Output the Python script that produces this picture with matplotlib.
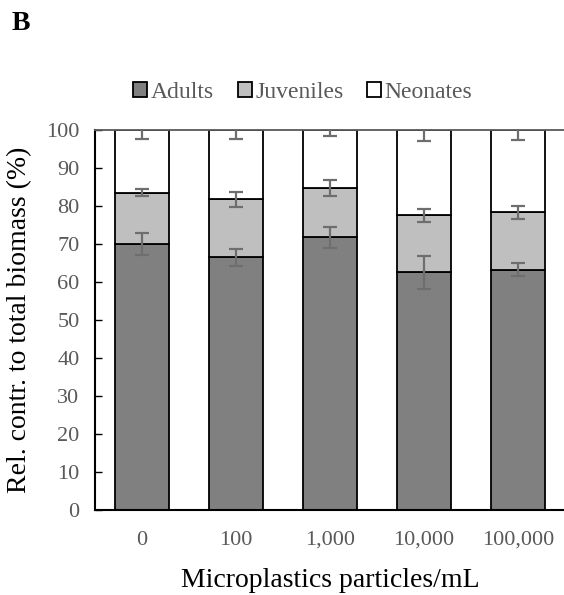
import matplotlib
matplotlib.use("Agg")
import matplotlib.pyplot as plt
import numpy as np
from matplotlib.patches import Patch

plt.rcParams['font.family'] = ['Liberation Serif', 'DejaVu Serif']

categories = ["0", "100", "1,000", "10,000", "100,000"]
adults = [70.0, 66.5, 71.8, 62.6, 63.3]
juveniles = [13.6, 15.3, 13.0, 15.0, 15.1]
neonates = [16.4, 18.2, 15.2, 22.4, 21.6]
adults_err = [2.85, 2.2, 2.7, 4.4, 1.75]
juveniles_err = [0.9, 2.05, 2.2, 1.8, 1.7]
neonates_err = [2.2, 2.4, 1.6, 2.8, 2.5]
yticks = list(range(0, 101, 10))

fig = plt.figure(figsize=(5.64, 5.95), dpi=100)
ax = fig.add_axes([0.168, 0.143, 0.834, 0.638])

x = np.arange(len(categories))
w = 0.57
txt = '#595959'
ecol = '#6e6e6e'
a = np.array(adults)
j = np.array(juveniles)
n = np.array(neonates)

ax.bar(x, a, w, color='#808080', edgecolor='black', linewidth=1.3, label='Adults', zorder=2)
ax.bar(x, j, w, bottom=a, color='#bfbfbf', edgecolor='black', linewidth=1.3, label='Juveniles', zorder=2)
ax.bar(x, n, w, bottom=a + j, color='white', edgecolor='black', linewidth=1.3, label='Neonates', zorder=2)

ekw = dict(fmt='none', ecolor=ecol, elinewidth=1.6, capsize=5, capthick=1.6, zorder=3)
ax.errorbar(x, a, yerr=adults_err, **ekw)
ax.errorbar(x, a + j, yerr=juveniles_err, **ekw)
ax.errorbar(x, a + j + n, yerr=neonates_err, **ekw)

ax.set_xlim(-0.5, 4.5)
ax.set_ylim(0, 100)
ax.set_yticks(yticks)
ax.set_xticks(x)
ax.set_xticklabels(categories)
ax.tick_params(axis='y', direction='in', length=5, width=1, color='black', labelsize=16, labelcolor=txt, pad=11)
ax.tick_params(axis='x', length=0, labelsize=16, labelcolor=txt, pad=15)

ax.spines['right'].set_visible(False)
ax.spines['top'].set_color('#595959')
ax.spines['top'].set_linewidth(1.3)
ax.spines['left'].set_linewidth(1.5)
ax.spines['bottom'].set_linewidth(1.5)

ax.set_ylabel('Rel. contr. to total biomass (%)', fontsize=20, labelpad=10)
ax.set_xlabel('Microplastics particles/mL', fontsize=20, labelpad=13)

handles = [Patch(facecolor='#808080', edgecolor='black', linewidth=1.3),
           Patch(facecolor='#bfbfbf', edgecolor='black', linewidth=1.3),
           Patch(facecolor='white', edgecolor='black', linewidth=1.3)]
leg = fig.legend(handles, ['Adults', 'Juveniles', 'Neonates'], loc='center', bbox_to_anchor=(0.537, 0.845),
                 ncol=3, frameon=False, fontsize=17, handlelength=0.6, handleheight=0.6,
                 handletextpad=0.15, columnspacing=1.0)
for t in leg.get_texts():
    t.set_color(txt)

fig.text(0.021, 0.961, 'B', fontsize=20, fontweight='bold', ha='left', va='center')

fig.savefig('out.png', dpi=100)
